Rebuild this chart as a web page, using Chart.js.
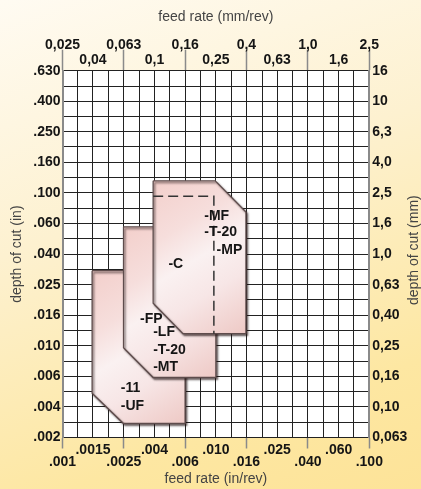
<!DOCTYPE html>
<html>
<head>
<meta charset="utf-8">
<script src="https://cdn.jsdelivr.net/npm/chart.js@4.4.1/dist/chart.umd.min.js"></script>
<style>
  html, body { margin: 0; padding: 0; }
  body {
    width: 421px; height: 489px; overflow: hidden;
    background: linear-gradient(160deg, #fffbf2 0%, #fdf1d0 40%, #fde7a2 80%, #fde398 100%);
  }
  canvas { display: block; }
</style>
</head>
<body>
<canvas id="myChart" width="421" height="489"></canvas>
<script>
// grid lines, 10 cells per decade (in/rev and in)
const feedTicks = [0.001, 0.00126, 0.00158, 0.002, 0.00251, 0.00316, 0.00398, 0.00501, 0.00631, 0.00794,
  0.01, 0.0126, 0.0158, 0.02, 0.0251, 0.0316, 0.0398, 0.0501, 0.0631, 0.0794, 0.1];
const feedLabelsIn = ['.001', '.0015', '.0025', '.004', '.006', '.010', '.016', '.025', '.040', '.060', '.100'];
const feedLabelsMm = ['0,025', '0,04', '0,063', '0,1', '0,16', '0,25', '0,4', '0,63', '1,0', '1,6', '2,5'];

const depthTicks = [0.00251, 0.00316, 0.00398, 0.00501, 0.00631, 0.00794, 0.01, 0.0126, 0.0158, 0.02,
  0.0251, 0.0316, 0.0398, 0.0501, 0.0631, 0.0794, 0.1, 0.126, 0.158, 0.2, 0.251, 0.316, 0.398, 0.501, 0.631];
const depthLabelsIn = ['.002', '.004', '.006', '.010', '.016', '.025', '.040', '.060', '.100', '.160', '.250', '.400', '.630'];
const depthLabelsMm = ['0,063', '0,10', '0,16', '0,25', '0,40', '0,63', '1,0', '1,6', '2,5', '4,0', '6,3', '10', '16'];

// insert areas (feed in/rev, depth in)
const cFeed = [0.0039, 0.0099, 0.0157, 0.0157, 0.0061, 0.0039, 0.0039];
const cDepth = [0.120, 0.120, 0.075, 0.012, 0.012, 0.019, 0.120];
const fpFeed = [0.0025, 0.0100, 0.0100, 0.0039, 0.0025, 0.0025];
const fpDepth = [0.060, 0.060, 0.0062, 0.0062, 0.0097, 0.060];
const ufFeed = [0.00156, 0.0063, 0.0063, 0.0025, 0.00156, 0.00156];
const ufDepth = [0.031, 0.031, 0.0031, 0.0031, 0.0049, 0.031];
const mpFeed = [0.0039, 0.0097, 0.0097];
const mpDepth = [0.095, 0.095, 0.012];

const gradeNames = ['-C', '-MF', '-T-20', '-MP', '-FP', '-LF', '-T-20', '-MT', '-11', '-UF'];
const gradeFeed = [0.0049, 0.0084, 0.0084, 0.0101, 0.0032, 0.0039, 0.0039, 0.0039, 0.0024, 0.0024];
const gradeDepth = [0.034, 0.071, 0.055, 0.042, 0.015, 0.0122, 0.0093, 0.0072, 0.0053, 0.0040];

const MM = 25.4;
const pts = (xs, ys) => xs.map((x, i) => ({x: x, y: ys[i]}));

function shapeFill(xs, ys) {
    return (context) => {
        const chart = context.chart;
        const sx = chart.scales.x, sy = chart.scales.y;
        if (!sx || !sy) return '#f5e0de';
        const c = [sx.getPixelForValue(Math.min(...xs)), sy.getPixelForValue(Math.max(...ys)),
            sx.getPixelForValue(Math.max(...xs)), sy.getPixelForValue(Math.min(...ys))];
        if (!c.every(Number.isFinite)) return '#f5e0de';
        const g = chart.ctx.createLinearGradient(c[0], c[1], c[2], c[3]);
        g.addColorStop(0, '#f3cfcb');
        g.addColorStop(0.3, '#f6dedc');
        g.addColorStop(0.5, '#faf1f1');
        g.addColorStop(0.7, '#f7e6e6');
        g.addColorStop(1, '#eec9c5');
        return g;
    };
}

function insert(xs, ys) {
    return {
        data: pts(xs, ys),
        showLine: true,
        fill: 'shape',
        backgroundColor: shapeFill(xs, ys),
        borderColor: '#5e4c4c',
        borderWidth: 1.3,
        pointRadius: 0,
        tension: 0
    };
}

const plotBg = {
    id: 'plotBg',
    beforeDraw(chart) {
        const {ctx, chartArea: a} = chart;
        ctx.save();
        ctx.fillStyle = '#ffffff';
        ctx.fillRect(a.left, a.top, a.right - a.left, a.bottom - a.top);
        ctx.restore();
    }
};

const shapeShadow = {
    id: 'shapeShadow',
    beforeDatasetsDraw(chart) {
        const ctx = chart.ctx;
        ctx.save();
        ctx.shadowColor = 'rgba(30,15,15,0.6)';
        ctx.shadowBlur = 2;
        ctx.shadowOffsetX = 1.5;
        ctx.shadowOffsetY = 1.8;
    },
    beforeDatasetDraw(chart, args) {
        if (args.index === 0) chart.ctx.shadowColor = 'rgba(0,0,0,0)';
    },
    afterDatasetsDraw(chart) {
        const ctx = chart.ctx;
        ctx.restore();
        // grade names
        const sx = chart.scales.x, sy = chart.scales.y;
        ctx.save();
        ctx.font = 'bold 14px "Liberation Sans", Arial, sans-serif';
        ctx.fillStyle = '#151515';
        ctx.textAlign = 'left';
        ctx.textBaseline = 'middle';
        gradeNames.forEach((t, i) => {
            ctx.fillText(t, sx.getPixelForValue(gradeFeed[i]), sy.getPixelForValue(gradeDepth[i]));
        });
        ctx.restore();
    }
};

const rightTitle = {
    id: 'rightTitle',
    afterDraw(chart) {
        const {ctx, chartArea: a} = chart;
        ctx.save();
        ctx.translate(chart.scales.y2.right - 7, (a.top + a.bottom) / 2 - 4);
        ctx.rotate(-Math.PI / 2);
        ctx.font = '14px "Liberation Sans", Arial, sans-serif';
        ctx.fillStyle = '#444';
        ctx.textAlign = 'center';
        ctx.textBaseline = 'middle';
        ctx.fillText('depth of cut (mm)', 0, 0);
        ctx.restore();
    }
};

Chart.defaults.font.family = '"Liberation Sans", Arial, sans-serif';
Chart.defaults.color = '#151515';

const tickFont = {size: 14, weight: 'bold'};
const titleFont = {size: 14, weight: 'normal'};
const majorTick = (c) => c.index % 4 === 0 ? '#8a8a8a' : 'rgba(0,0,0,0)';

const chart = new Chart(document.getElementById('myChart'), {
    type: 'scatter',
    data: {
        datasets: [
            {
                data: pts(mpFeed, mpDepth),
                showLine: true,
                fill: false,
                borderColor: '#333',
                borderWidth: 1.5,
                borderDash: [10, 5],
                pointRadius: 0
            },
            insert(cFeed, cDepth),
            insert(fpFeed, fpDepth),
            insert(ufFeed, ufDepth)
        ]
    },
    options: {
        responsive: false,
        animation: false,
        devicePixelRatio: 1,
        layout: {padding: 0},
        plugins: {legend: {display: false}, tooltip: {enabled: false}},
        scales: {
            x: {
                type: 'logarithmic',
                position: 'bottom',
                min: feedTicks[0],
                max: feedTicks[feedTicks.length - 1],
                afterBuildTicks: (s) => { s.ticks = feedTicks.map(v => ({value: v})); },
                afterFit: (s) => { s.height = 51.5; },
                grid: {color: '#222', lineWidth: 1, tickLength: 11, tickColor: majorTick, tickWidth: 1.5},
                border: {color: '#222', width: 1},
                ticks: {
                    autoSkip: false, maxRotation: 0, minRotation: 0, padding: -4.5,
                    font: {size: 14, weight: 'bold', lineHeight: '12px'},
                    callback: (v, i) => i % 2 ? '' :
                        (i % 4 ? [feedLabelsIn[i / 2], ''] : ['', feedLabelsIn[i / 2]])
                },
                title: {display: true, text: 'feed rate (in/rev)', color: '#444', font: titleFont,
                    padding: {top: 0, bottom: 1}}
            },
            x2: {
                type: 'logarithmic',
                position: 'top',
                min: feedTicks[0] * MM,
                max: feedTicks[feedTicks.length - 1] * MM,
                afterBuildTicks: (s) => { s.ticks = feedTicks.map(v => ({value: v * MM})); },
                afterFit: (s) => { s.height = 70.7; },
                grid: {drawOnChartArea: false, tickLength: 21, tickColor: majorTick, tickWidth: 1.5},
                border: {color: '#222', width: 1},
                ticks: {
                    autoSkip: false, maxRotation: 0, minRotation: 0, padding: -18,
                    font: {size: 14, weight: 'bold', lineHeight: '15px'},
                    callback: (v, i) => i % 2 ? '' :
                        (i % 4 ? ['', feedLabelsMm[i / 2]] : [feedLabelsMm[i / 2], ''])
                },
                title: {display: true, text: 'feed rate (mm/rev)', color: '#444', font: titleFont,
                    padding: {top: 9, bottom: 0}}
            },
            y: {
                type: 'logarithmic',
                position: 'left',
                min: depthTicks[0],
                max: depthTicks[depthTicks.length - 1],
                afterBuildTicks: (s) => { s.ticks = depthTicks.map(v => ({value: v})); },
                afterFit: (s) => { s.width = 62.5; },
                grid: {color: '#222', lineWidth: 1, drawTicks: false},
                border: {color: '#8a8a8a', width: 2},
                ticks: {
                    autoSkip: false, padding: 2, font: tickFont,
                    callback: (v, i) => i % 2 ? '' : depthLabelsIn[i / 2]
                },
                title: {display: true, text: 'depth of cut (in)', color: '#444', font: titleFont,
                    padding: {top: 9, bottom: 0}}
            },
            y2: {
                type: 'logarithmic',
                position: 'right',
                min: depthTicks[0] * MM,
                max: depthTicks[depthTicks.length - 1] * MM,
                afterBuildTicks: (s) => { s.ticks = depthTicks.map(v => ({value: v * MM})); },
                afterFit: (s) => { s.width = 51.7; },
                grid: {drawOnChartArea: false, drawTicks: false},
                border: {color: '#8a8a8a', width: 2},
                ticks: {
                    autoSkip: false, padding: 3, font: tickFont,
                    callback: (v, i) => i % 2 ? '' : depthLabelsMm[i / 2]
                }
            }
        }
    },
    plugins: [plotBg, shapeShadow, rightTitle]
});
// second pass so the insert gradients see laid-out scales
chart.update('none');
</script>
</body>
</html>
